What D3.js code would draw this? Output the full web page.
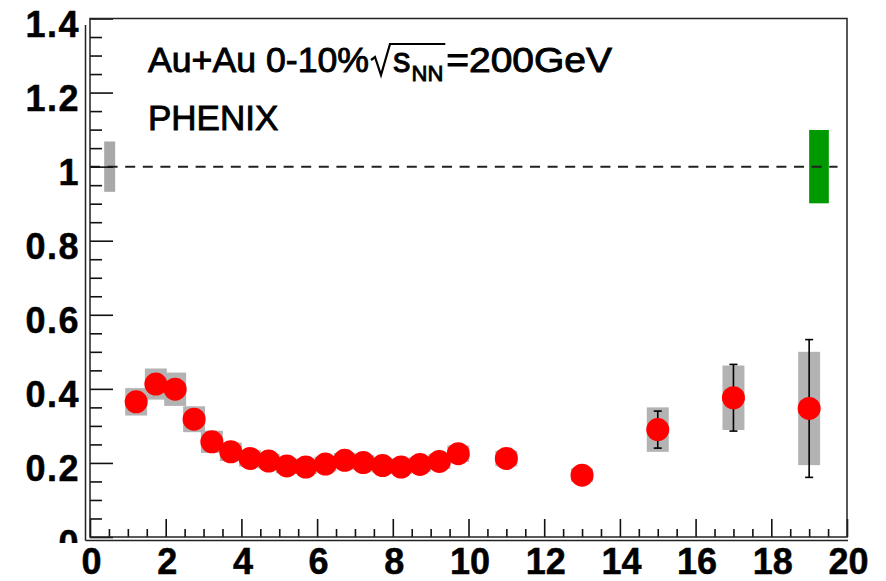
<!DOCTYPE html>
<html><head><meta charset="utf-8">
<script src="https://cdn.jsdelivr.net/npm/d3@7"></script>
<style>body{margin:0;background:#fff}svg{display:block}</style>
</head><body>
<svg id="c" width="886" height="581"></svg>
<script>
// ---- data ----
const pt      = [1.22,1.74,2.25,2.75,3.22,3.72,4.23,4.72,5.20,5.70,6.22,6.73,7.22,7.73,8.22,8.72,9.23,9.73,11.0,13.0,15.0,17.0,19.0];
const raa     = [0.365,0.413,0.399,0.318,0.257,0.230,0.212,0.205,0.192,0.189,0.197,0.207,0.201,0.193,0.189,0.196,0.204,0.225,0.212,0.167,0.290,0.376,0.347];
const statErr = [0.006,0.006,0.006,0.005,0.004,0.004,0.004,0.004,0.004,0.004,0.005,0.005,0.005,0.006,0.006,0.007,0.008,0.009,0.012,0.018,0.050,0.090,0.186];
const sysErr  = [0.037,0.042,0.045,0.035,0.030,0.025,0.022,0.020,0.020,0.019,0.020,0.020,0.020,0.019,0.019,0.020,0.020,0.022,0.021,0.018,0.060,0.087,0.153];
const normBoxes = [ {x:0.52, y:1.0, err:0.068, color:"#a9a9a9", hw:0.145},
                    {x:19.26, y:1.0, err:0.099, color:"#009a00", hw:0.26} ];
const xTicks = [0,2,4,6,8,10,12,14,16,18,20];
const yTicks = [0,0.2,0.4,0.6,0.8,1.0,1.2,1.4];
const yTickLabels = ["0","0.2","0.4","0.6","0.8","1","1.2","1.4"];
const refLine = {x0:0, x1:19.75, y:1.0};

// ---- layout ----
const svg = d3.select("#c");
const X0=90, X1=847, Y0=537, Y1=18.5;
const x = d3.scaleLinear().domain([0,20]).range([X0,X1]);
const y = d3.scaleLinear().domain([0,1.4]).range([Y0,Y1]);
const sysHW = 0.29;

// normalisation boxes
svg.selectAll("rect.norm").data(normBoxes).enter().append("rect")
  .attr("x", d=>x(d.x-d.hw)).attr("width", d=>x(d.x+d.hw)-x(d.x-d.hw))
  .attr("y", d=>y(d.y+d.err)).attr("height", d=>y(d.y-d.err)-y(d.y+d.err))
  .attr("fill", d=>d.color);

// reference dashed line
svg.append("line")
  .attr("x1", x(refLine.x0)).attr("x2", x(refLine.x1))
  .attr("y1", y(refLine.y)).attr("y2", y(refLine.y))
  .attr("stroke","#222").attr("stroke-width",2).attr("stroke-dasharray","10,7.6");

const data = pt.map((p,i)=>({x:p, y:raa[i], st:statErr[i], sy:sysErr[i]}));

// systematic boxes
svg.selectAll("rect.sys").data(data).enter().append("rect")
  .attr("x", d=>x(d.x-sysHW)).attr("width", d=>x(d.x+sysHW)-x(d.x-sysHW))
  .attr("y", d=>y(d.y+d.sy)).attr("height", d=>y(d.y-d.sy)-y(d.y+d.sy))
  .attr("fill","#b3b3b3");

// stat error bars
const eb = svg.append("g").attr("stroke","#000").attr("stroke-width",1.6);
data.forEach(d=>{
  eb.append("line").attr("x1",x(d.x)).attr("x2",x(d.x)).attr("y1",y(d.y+d.st)).attr("y2",y(d.y-d.st));
  [d.y+d.st, d.y-d.st].forEach(v=>{
    eb.append("line").attr("x1",x(d.x)-4).attr("x2",x(d.x)+4).attr("y1",y(v)).attr("y2",y(v));
  });
});

// markers
svg.selectAll("circle.pt").data(data).enter().append("circle")
  .attr("cx", d=>x(d.x)).attr("cy", d=>y(d.y)).attr("r",11.5).attr("fill","#ff0000");

// ---- axes ----
const fontTick = "'Liberation Sans', Arial, Helvetica, sans-serif";
// y axis
svg.append("clipPath").attr("id","yclip").append("rect")
  .attr("x",-100).attr("y",0).attr("width",200).attr("height",543);
const gy = svg.append("g").attr("transform",`translate(${X0},0)`).attr("clip-path","url(#yclip)");
gy.call(d3.axisLeft(y).tickValues(yTicks).tickFormat((d,i)=>yTickLabels[i]).tickSize(-23).tickPadding(10));
const yMinor = d3.range(0,1.4001,0.05).filter(v=>Math.abs(Math.round(v*5)-v*5)>1e-6);
svg.append("g").attr("transform",`translate(${X0},0)`)
  .call(d3.axisLeft(y).tickValues(yMinor).tickFormat("").tickSize(-12));
// x axis
const gx = svg.append("g").attr("transform",`translate(0,${Y0})`);
gx.call(d3.axisBottom(x).tickValues(xTicks).tickFormat(d3.format("d")).tickSize(-18).tickPadding(11.5));
const xMinor = d3.range(0,20.001,0.5).filter(v=>Math.abs(v%2)>1e-6);
svg.append("g").attr("transform",`translate(0,${Y0})`)
  .call(d3.axisBottom(x).tickValues(xMinor).tickFormat("").tickSize(-8));

svg.selectAll(".domain").remove();
svg.selectAll(".tick line").attr("stroke","#111").attr("stroke-width",1.6);
svg.selectAll(".tick text").attr("font-family",fontTick).attr("font-weight","bold")
  .attr("font-size",36).attr("fill","#000").attr("stroke","#000").attr("stroke-width",0.5);
gy.selectAll(".tick text").attr("dy","0.5em").attr("letter-spacing","1.5px");
gx.selectAll(".tick text").attr("dx","1");

// frame
svg.append("rect").attr("x",X0).attr("y",Y1).attr("width",X1-X0).attr("height",Y0-Y1)
  .attr("fill","none").attr("stroke","#222").attr("stroke-width",1.5);
svg.append("line").attr("x1",X0-4.5).attr("x2",X0-4.5).attr("y1",25).attr("y2",Y0+3.5)
  .attr("stroke","#222").attr("stroke-width",1.5);
svg.append("line").attr("x1",X0-4.5).attr("x2",X1+1).attr("y1",Y0+3.5).attr("y2",Y0+3.5)
  .attr("stroke","#222").attr("stroke-width",1.5);

// ---- labels ----
const fontTxt = "'Liberation Sans', Arial, Helvetica, sans-serif";
const tg = svg.append("g").attr("font-family",fontTxt).attr("fill","#000")
  .attr("stroke","#000").attr("stroke-width",0.9);
const t1 = tg.append("text").attr("x",148).attr("y",72).attr("font-size",35)
  .attr("textLength",221).attr("lengthAdjust","spacingAndGlyphs").text("Au+Au 0-10%");
let cx = 148 + 221;
// radical
const rx = cx + 2;
const sT = tg.append("text").attr("x",rx+22).attr("y",72).attr("font-size",35).text("s");
const sW = sT.node().getComputedTextLength();
const nT = tg.append("text").attr("x",rx+22+sW+1).attr("y",81).attr("font-size",22).text("NN");
const nW = nT.node().getComputedTextLength();
const endR = rx+22+sW+1+nW+2;
tg.append("path")
  .attr("d",`M${rx},${60} L${rx+4},${57} L${rx+10},${75} L${rx+19},${44} L${endR},${44}`)
  .attr("fill","none").attr("stroke","#000").attr("stroke-width",2.2);
tg.append("text").attr("x",endR+1).attr("y",72).attr("font-size",35)
  .attr("textLength",612-endR-1).attr("lengthAdjust","spacingAndGlyphs").text("=200GeV");
tg.append("text").attr("x",148).attr("y",130).attr("font-size",35).text("PHENIX");
</script>
</body></html>
